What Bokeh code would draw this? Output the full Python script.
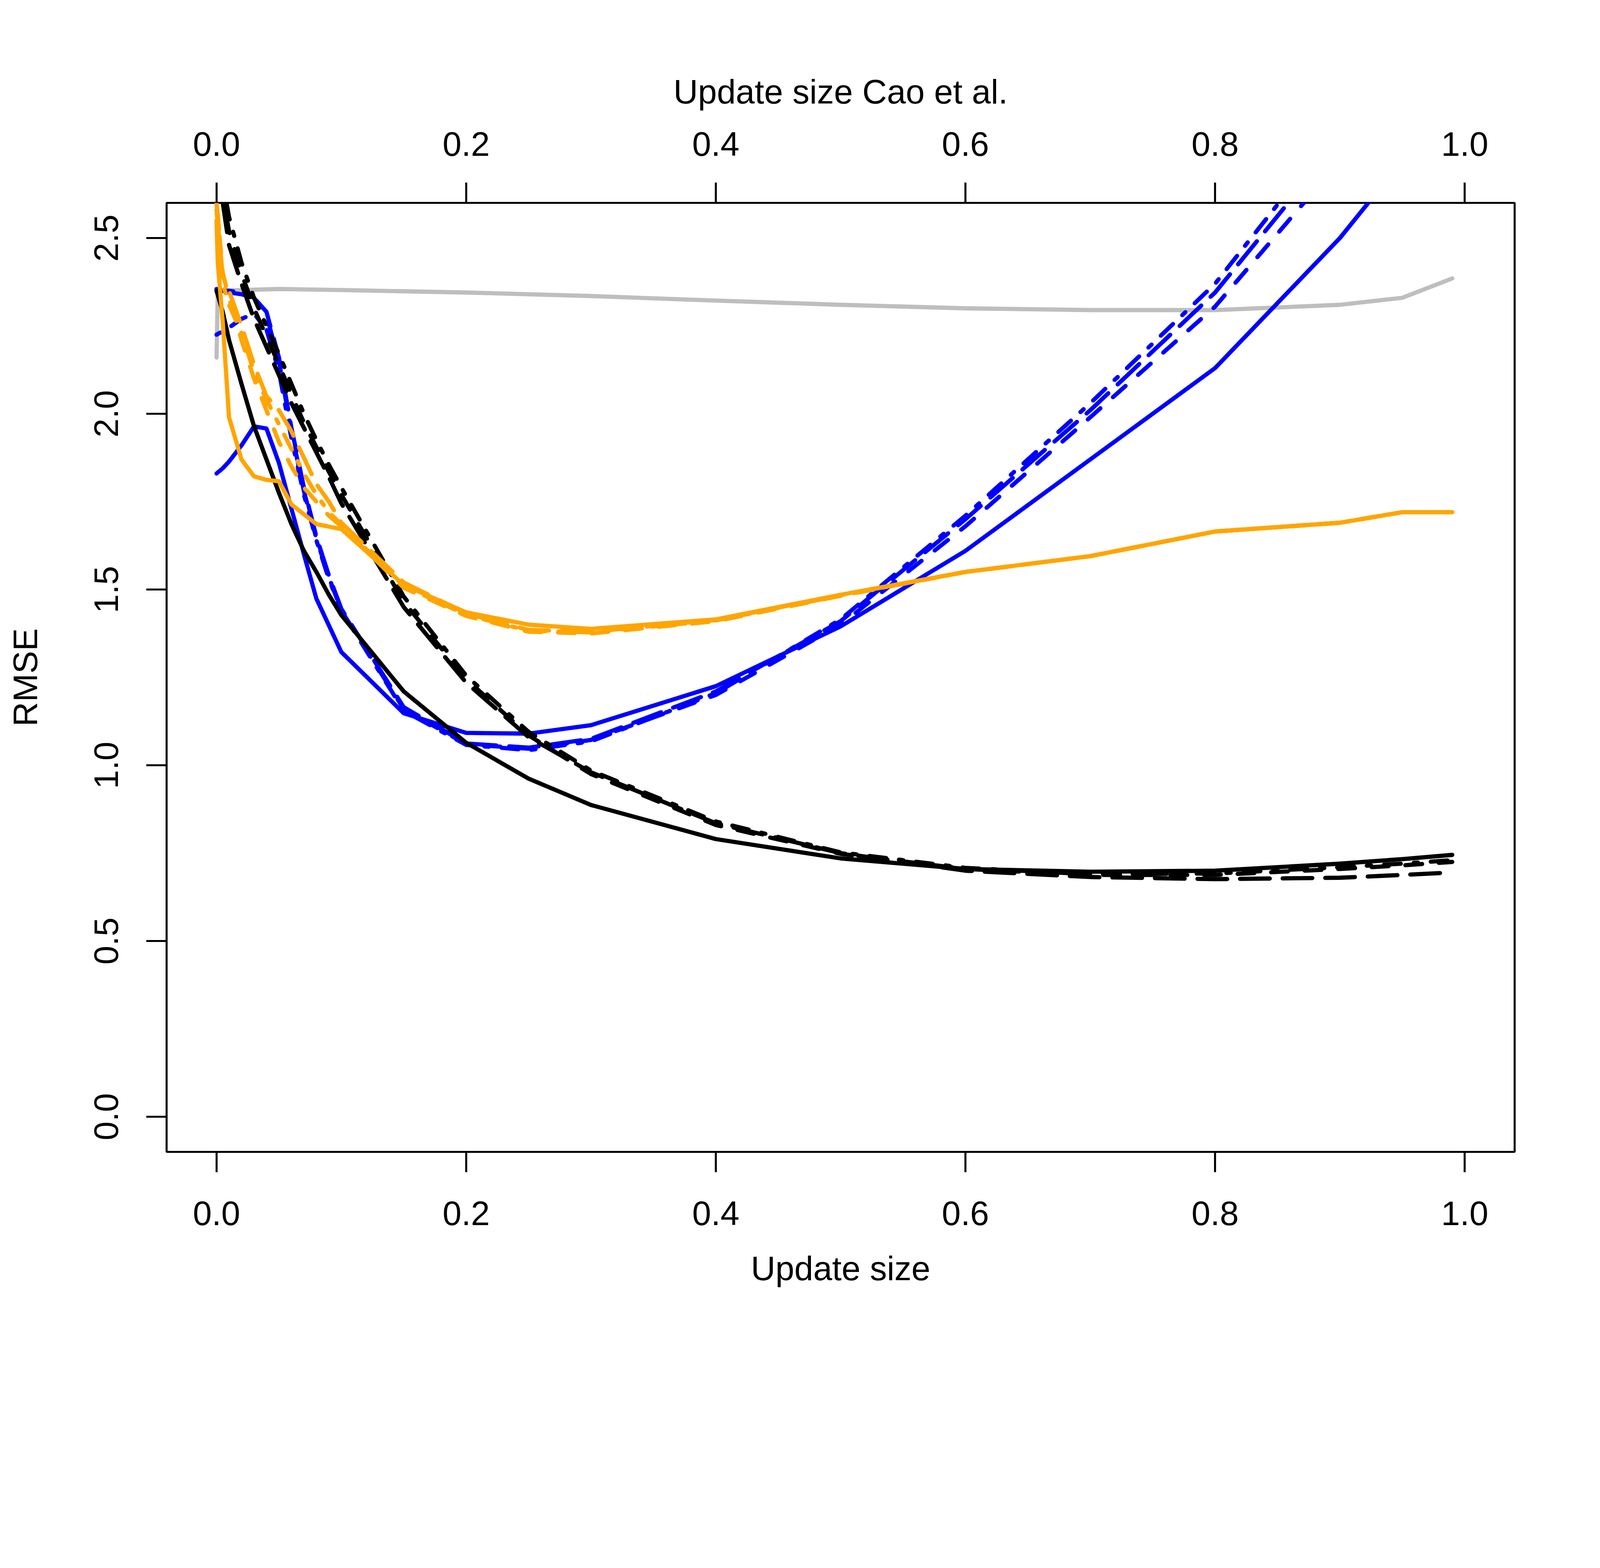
from bokeh.plotting import figure
from bokeh.models import LinearAxis, FixedTicker, NumeralTickFormatter, Range1d
from bokeh.embed import file_html
from bokeh.resources import INLINE

# ---------------- data ----------------
X_MAIN = [0, 0.005, 0.01, 0.02, 0.03, 0.04, 0.05, 0.06, 0.07, 0.08, 0.09, 0.1,
          0.15, 0.2, 0.25, 0.3, 0.4, 0.5, 0.6, 0.7, 0.8, 0.9, 0.95, 0.99]

# Cao et al. (grey)
X_GREY = [0, 0.001, 0.05, 0.1, 0.2, 0.3, 0.4, 0.5, 0.6, 0.7, 0.8, 0.9, 0.95, 0.99]
GREY = [2.16, 2.35, 2.355, 2.352, 2.345, 2.335, 2.322, 2.31, 2.30, 2.295, 2.295,
        2.31, 2.33, 2.385]

# black group
BLACK_SOLID = [2.35, 2.29, 2.21, 2.085, 1.965, 1.87, 1.775, 1.686, 1.61, 1.55, 1.485,
               1.427, 1.21, 1.064, 0.962, 0.887, 0.79, 0.735, 0.705, 0.697, 0.70,
               0.72, 0.733, 0.745]
BLACK_DASH = [2.75, 2.62, 2.52, 2.40, 2.30, 2.22, 2.14, 2.055, 1.975, 1.905, 1.835,
              1.77, 1.465, 1.245, 1.085, 0.975, 0.83, 0.748, 0.705, 0.688, 0.688,
              0.705, 0.715, 0.725]
BLACK_DOTDASH = [2.78, 2.66, 2.56, 2.43, 2.33, 2.25, 2.17, 2.085, 2.0, 1.925, 1.855,
                 1.79, 1.48, 1.255, 1.095, 0.985, 0.84, 0.752, 0.708, 0.69, 0.692,
                 0.71, 0.72, 0.73]
BLACK_LONGDASH = [2.72, 2.60, 2.48, 2.37, 2.27, 2.19, 2.11, 2.03, 1.96, 1.89, 1.82,
                  1.745, 1.45, 1.235, 1.08, 0.98, 0.835, 0.75, 0.70, 0.682, 0.676,
                  0.68, 0.688, 0.695]

# blue group
X_BLUE_SOLID = [0, 0.005, 0.01, 0.02, 0.03, 0.04, 0.05, 0.06, 0.07, 0.08, 0.1, 0.15,
                0.2, 0.25, 0.3, 0.4, 0.5, 0.6, 0.7, 0.8, 0.9, 0.95, 0.99]
BLUE_SOLID = [1.83, 1.845, 1.864, 1.91, 1.964, 1.958, 1.86, 1.73, 1.60, 1.474, 1.322,
              1.148, 1.092, 1.09, 1.114, 1.225, 1.395, 1.61, 1.87, 2.13, 2.50, 2.72,
              2.92]
BLUE_DASH = [2.35, 2.35, 2.35, 2.345, 2.33, 2.28, 2.15, 1.95, 1.78, 1.645, 1.535, 1.44,
             1.16, 1.06, 1.047, 1.072, 1.20, 1.40, 1.68, 1.99, 2.305, 2.72, 2.95, 3.15]
BLUE_DOTDASH = [2.225, 2.235, 2.245, 2.27, 2.285, 2.24, 2.12, 1.93, 1.77, 1.64, 1.53,
                1.44, 1.155, 1.058, 1.043, 1.068, 1.205, 1.415, 1.71, 2.03, 2.37,
                2.82, 3.05, 3.25]
BLUE_LONGDASH = [2.355, 2.35, 2.345, 2.34, 2.33, 2.29, 2.16, 1.96, 1.79, 1.65, 1.54,
                 1.445, 1.165, 1.062, 1.05, 1.075, 1.21, 1.41, 1.70, 2.01, 2.345,
                 2.78, 3.0, 3.2]

# orange group
X_ORANGE_SOLID = [0, 0.001, 0.005, 0.01, 0.02, 0.03, 0.04, 0.05, 0.06, 0.08, 0.1,
                  0.15, 0.2, 0.25, 0.3, 0.4, 0.5, 0.6, 0.7, 0.8, 0.9, 0.95, 0.99]
ORANGE_SOLID = [2.55, 2.43, 2.26, 1.99, 1.87, 1.822, 1.812, 1.808, 1.742, 1.686,
                1.672, 1.513, 1.435, 1.40, 1.388, 1.415, 1.485, 1.55, 1.595, 1.665,
                1.69, 1.72, 1.72]
ORANGE_DASH = [2.6, 2.40, 2.33, 2.21, 2.10, 2.01, 1.92, 1.85, 1.79, 1.75, 1.71, 1.68,
               1.505, 1.425, 1.38, 1.375, 1.41, 1.482, 1.55, 1.595, 1.665, 1.69,
               1.72, 1.72]
ORANGE_DOTDASH = [2.62, 2.37, 2.31, 2.23, 2.12, 2.04, 1.97, 1.90, 1.83, 1.77, 1.72,
                  1.685, 1.51, 1.428, 1.383, 1.378, 1.412, 1.483, 1.55, 1.595, 1.665,
                  1.69, 1.72, 1.72]
ORANGE_LONGDASH = [2.58, 2.39, 2.35, 2.25, 2.14, 2.05, 2.01, 1.95, 1.875, 1.80, 1.75,
                   1.69, 1.52, 1.432, 1.385, 1.38, 1.413, 1.484, 1.55, 1.595, 1.665,
                   1.69, 1.72, 1.72]

X_TICKS = [0, 0.2, 0.4, 0.6, 0.8, 1.0]
Y_TICKS = [0, 0.5, 1.0, 1.5, 2.0, 2.5]

# ---------------- styles ----------------
FONT = "Liberation Sans"
FS = "87px"
LW = 10.8
BOX_W = 5.2
DASH = "43 43"          # R lty 2
DOTDASH = "11 33 43 33" # R lty 4
LONGDASH = "76 33"      # R lty 5

p = figure(frame_width=3451, frame_height=2430,
           min_border_left=426, min_border_right=203,
           min_border_top=519, min_border_bottom=516,
           x_range=Range1d(-0.04, 1.04), y_range=Range1d(-0.1, 2.6),
           output_backend="svg", toolbar_location=None)
p.xgrid.visible = False
p.ygrid.visible = False
p.outline_line_color = "black"
p.outline_line_width = BOX_W
p.background_fill_color = "white"
p.border_fill_color = "white"


def style(ax, ticks):
    ax.ticker = FixedTicker(ticks=ticks)
    ax.formatter = NumeralTickFormatter(format="0.0")
    ax.axis_line_color = None
    ax.major_tick_line_color = "black"
    ax.major_tick_line_width = BOX_W
    ax.major_tick_out = 52
    ax.major_tick_in = 0
    ax.minor_tick_line_color = None
    ax.major_label_text_font = FONT
    ax.major_label_text_font_size = FS
    ax.major_label_text_color = "black"
    ax.axis_label_text_font = FONT
    ax.axis_label_text_font_size = FS
    ax.axis_label_text_font_style = "normal"
    ax.axis_label_text_color = "black"


xb = p.xaxis[0]
style(xb, X_TICKS)
xb.axis_label = "Update size"
xb.major_label_standoff = 75
xb.axis_label_standoff = 59

yl = p.yaxis[0]
style(yl, Y_TICKS)
yl.axis_label = "RMSE"
yl.major_label_orientation = "parallel"
yl.major_label_standoff = 73
yl.axis_label_standoff = 126

xt = LinearAxis(axis_label="Update size Cao et al.")
style(xt, X_TICKS)
xt.major_label_standoff = 69
xt.axis_label_standoff = 53
p.add_layout(xt, "above")


def draw(xs, ys, color, dash="solid"):
    p.line(xs, ys, line_color=color, line_width=LW, line_dash=dash,
           line_cap="round", line_join="round")


draw(X_GREY, GREY, "#BEBEBE")

draw(X_BLUE_SOLID, BLUE_SOLID, "#0000FF")
draw(X_MAIN, BLUE_DASH, "#0000FF", DASH)
draw(X_MAIN, BLUE_DOTDASH, "#0000FF", DOTDASH)
draw(X_MAIN, BLUE_LONGDASH, "#0000FF", LONGDASH)

draw(X_MAIN, BLACK_SOLID, "black")
draw(X_MAIN, BLACK_DASH, "black", DASH)
draw(X_MAIN, BLACK_DOTDASH, "black", DOTDASH)
draw(X_MAIN, BLACK_LONGDASH, "black", LONGDASH)

draw(X_ORANGE_SOLID, ORANGE_SOLID, "#FFA500")
draw(X_MAIN, ORANGE_DASH, "#FFA500", DASH)
draw(X_MAIN, ORANGE_DOTDASH, "#FFA500", DOTDASH)
draw(X_MAIN, ORANGE_LONGDASH, "#FFA500", LONGDASH)

open("out.html", "w").write(file_html(p, INLINE))
